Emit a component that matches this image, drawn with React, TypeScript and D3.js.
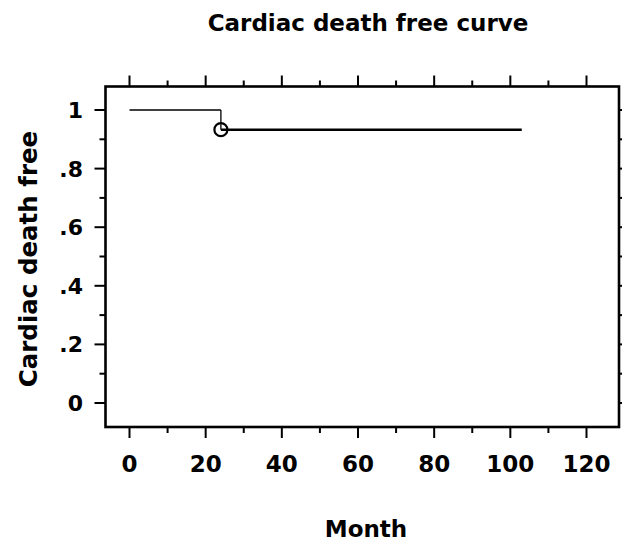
import React from "react";
import * as d3 from "d3";

// Kaplan-Meier style step curve
const months = [0, 24, 103];
const survival = [1, 0.933, 0.933];
const markMonths = [24];
const markSurvival = [0.933];

const xMajor = [0, 20, 40, 60, 80, 100, 120];
const xMinor = [10, 30, 50, 70, 90, 110];
const yMajor = [0, 0.2, 0.4, 0.6, 0.8, 1];
const yLabels = ["0", ".2", ".4", ".6", ".8", "1"];
const yMinor = [0.1, 0.3, 0.5, 0.7, 0.9];

const W = 622;
const H = 541;
const frame = { left: 105.5, right: 619, top: 86.5, bottom: 427 };
const font = "'DejaVu Sans', Verdana, sans-serif";

export default function App() {
  const x = d3.scaleLinear().domain([0, 120]).range([129.5, 586.5]);
  const y = d3.scaleLinear().domain([0, 1]).range([403, 110]);

  // horizontal pieces of the step curve, then the drops
  const segs = months.slice(0, -1).map((m, i) => ({
    x1: x(m),
    x2: x(months[i + 1]),
    y: y(survival[i]),
  }));
  const drops = months.slice(1).map((m, i) => ({
    x: x(m),
    y1: y(survival[i]),
    y2: y(survival[i + 1]),
  }));

  return (
    <svg
      width={W}
      height={H}
      style={{ position: "absolute", left: 0, top: 0, background: "#fff" }}
    >
      <text
        x={368}
        y={31}
        textAnchor="middle"
        fontFamily={font}
        fontWeight="bold"
        fontSize={23}
      >
        Cardiac death free curve
      </text>

      {/* frame */}
      <rect
        x={frame.left}
        y={frame.top}
        width={frame.right - frame.left}
        height={frame.bottom - frame.top}
        fill="none"
        stroke="#000"
        strokeWidth={2.6}
      />

      {/* bottom + top ticks */}
      {xMajor.map((d) => (
        <g key={"xm" + d}>
          <line x1={x(d)} x2={x(d)} y1={frame.bottom} y2={frame.bottom + 11} stroke="#000" strokeWidth={2} />
          <line x1={x(d)} x2={x(d)} y1={frame.top} y2={frame.top - 11} stroke="#000" strokeWidth={2} />
          <text
            x={x(d)}
            y={472}
            textAnchor="middle"
            fontFamily={font}
            fontWeight="bold"
            fontSize={23}
          >
            {d}
          </text>
        </g>
      ))}
      {xMinor.map((d) => (
        <g key={"xn" + d}>
          <line x1={x(d)} x2={x(d)} y1={frame.bottom} y2={frame.bottom + 6} stroke="#000" strokeWidth={2} />
          <line x1={x(d)} x2={x(d)} y1={frame.top} y2={frame.top - 6} stroke="#000" strokeWidth={2} />
        </g>
      ))}

      {/* left ticks, tiny ones on the right */}
      {yMajor.map((d, i) => (
        <g key={"ym" + d}>
          <line x1={frame.left} x2={frame.left - 11} y1={y(d)} y2={y(d)} stroke="#000" strokeWidth={2} />
          <line x1={frame.right} x2={frame.right + 3} y1={y(d)} y2={y(d)} stroke="#000" strokeWidth={2} />
          <text
            x={83}
            y={y(d) + 8}
            textAnchor="end"
            fontFamily={font}
            fontWeight="bold"
            fontSize={22}
          >
            {yLabels[i]}
          </text>
        </g>
      ))}
      {yMinor.map((d) => (
        <g key={"yn" + d}>
          <line x1={frame.left} x2={frame.left - 6} y1={y(d)} y2={y(d)} stroke="#000" strokeWidth={2} />
          <line x1={frame.right} x2={frame.right + 3} y1={y(d)} y2={y(d)} stroke="#000" strokeWidth={2} />
        </g>
      ))}

      <text
        transform={`translate(37,259) rotate(-90)`}
        textAnchor="middle"
        fontFamily={font}
        fontWeight="bold"
        fontSize={24.5}
      >
        Cardiac death free
      </text>
      <text
        x={366}
        y={537}
        textAnchor="middle"
        fontFamily={font}
        fontWeight="bold"
        fontSize={23}
      >
        Month
      </text>

      {/* curve */}
      {segs.map((s, i) => (
        <line
          key={"s" + i}
          x1={s.x1}
          x2={s.x2}
          y1={s.y}
          y2={s.y}
          stroke="#000"
          strokeWidth={i === 0 ? 1.3 : 2.5}
        />
      ))}
      {drops
        .filter((d) => d.y1 !== d.y2)
        .map((d, i) => (
          <line key={"d" + i} x1={d.x} x2={d.x} y1={d.y1} y2={d.y2} stroke="#000" strokeWidth={1.3} />
        ))}
      {markMonths.map((m, i) => (
        <circle
          key={"c" + i}
          cx={x(m)}
          cy={y(markSurvival[i])}
          r={6.5}
          fill="none"
          stroke="#000"
          strokeWidth={2.2}
        />
      ))}
    </svg>
  );
}
